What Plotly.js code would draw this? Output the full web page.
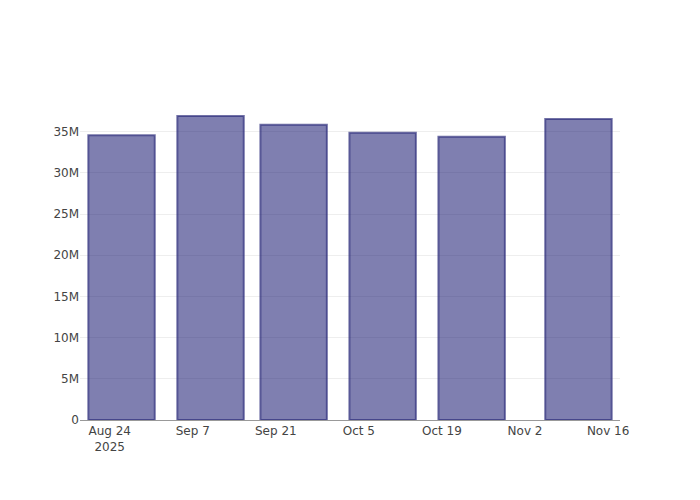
<!DOCTYPE html>
<html>
<head>
<meta charset="utf-8">
<script src="https://cdn.plot.ly/plotly-3.0.1.min.js"></script>
<style>html,body{margin:0;padding:0;}</style>
</head>
<body>
<div id="chart" style="width:700px;height:500px;"></div>
<script>
const dates = ["2025-08-26", "2025-09-10", "2025-09-24", "2025-10-09", "2025-10-24", "2025-11-11"];
const values = [34.56e6, 36.91e6, 35.85e6, 34.88e6, 34.39e6, 36.55e6];

const trace = {
  type: "bar",
  x: dates,
  y: values,
  marker: {
    color: "rgba(0,0,97,0.5)",
    line: { color: "rgba(40,40,120,0.65)", width: 2 }
  }
};

const layout = {
  width: 700,
  height: 500,
  margin: { l: 80, r: 80, t: 100, b: 80 },
  font: { family: "DejaVu Sans", size: 12, color: "#444" },
  paper_bgcolor: "white",
  plot_bgcolor: "white",
  showlegend: false,
  xaxis: {
    type: "date",
    showgrid: false,
    showline: true,
    linecolor: "#999",
    ticks: "",
    zeroline: false
  },
  yaxis: {
    gridcolor: "#eee",
    showline: false,
    ticks: "",
    zeroline: false
  }
};

Plotly.newPlot("chart", [trace], layout, { displayModeBar: false });
</script>
</body>
</html>
